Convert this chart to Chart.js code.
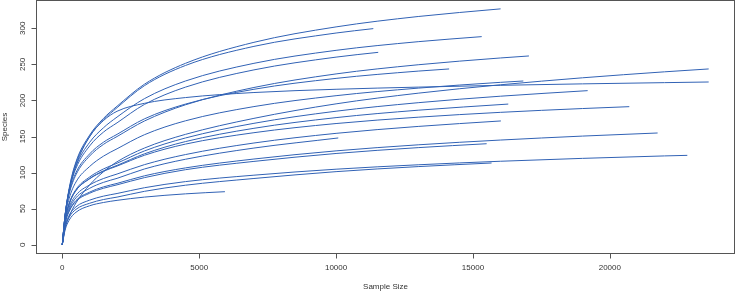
<!DOCTYPE html>
<html><head><meta charset="utf-8">
<script src="https://cdn.jsdelivr.net/npm/chart.js@4/dist/chart.umd.min.js"></script>
<style>html,body{margin:0;padding:0;background:#fff}</style>
</head><body>
<canvas id="c" width="735" height="292"></canvas>
<script>
// sample sizes at which the curves were read (each curve stops at its own end size)
const sampleGrid = [0,100,250,500,1000,1500,2000,3000,4500,7000,10000,13000,16000,19000,22000];
const curveEnds = [16010,11360,15320,11540,17045,14130,23610,23610,16840,19190,16290,20710,16020,10080,21745,15500,22830,15680,5940];
const s01 = [0,40,78,115,152,175,192,222.5,251.5,280.6,302,316.4,327];
const s02 = [0,39,76,113,150,173,190,220.5,248.5,275,293.5,299.6];
const s03 = [0,40.5,76,109,142,162,177,202.5,227,251.5,269.5,281.5,288.5];
const s04 = [0,40,75,106,137,156,169,194.5,218.5,242.4,260.1,266.7];
const s05 = [0,38.5,70,97,123,139,150,171.5,194,218,236.8,249.5,258.9,261.7];
const s06 = [0,40,72,100,126,142,153,174.5,195,215.5,230.6,240.7,243.7];
const s07 = [0,22,39,58,83,101,115,134,153,175.2,195.3,210.1,221.7,231.4,239.7,243.7];
const s08 = [0,40,75,110,150,172,185,196,204,211,215.5,218.5,221,223,224.7,225.6];
const s09 = [0,37.3,63.9,87,108.5,122.7,133,152.5,171.8,191.5,206.6,217.1,225.1,227];
const s10 = [0,33.9,57.1,76.6,93.9,105,113,130,148,168.3,185.1,196.9,205.9,213.6];
const s11 = [0,33.6,56.2,75.2,91.8,102.4,110,126,143,161.4,176.2,186.5,195];
const s12 = [0,33.9,56.5,75.1,91.4,101.7,109,124,139.5,155.3,168,176.8,183.5,188.8,191.4];
const s13 = [0,31.6,52.1,68.7,82.9,91.7,98,111,125,141,154.4,164,171.6];
const s14 = [0,30.2,49.5,65.1,78.2,86.4,92,105,118.5,134,148];
const s15 = [0,28.9,46.9,61.3,72.9,80.1,85,95.5,106.5,118.8,130.1,138.5,145.1,150.6,154.9];
const s16 = [0,28.3,46.1,60.1,71.4,78.2,83,93,104,115.5,126.5,134.6,140];
const s17 = [0,25.3,40.7,52.5,61.8,67.3,71,79,87.5,96.4,104.7,110.8,115.7,119.7,123.1,123.9];
const s18 = [0,23.7,38.1,49,57.5,62.6,66,74,82.5,91.8,101.3,108.3,113.3];
const s19 = [0,20,34,45,54,58.5,61.5,66,70.5,73.5];
const speciesSeries = [s01,s02,s03,s04,s05,s06,s07,s08,s09,s10,s11,s12,s13,s14,s15,s16,s17,s18,s19];

const xTickValues = [0,5000,10000,15000,20000];
const yTickValues = [0,50,100,150,200,250,300];
const xTitle = 'Sample Size';
const yTitle = 'Species';

const lineColor = '#3162b5';
const datasets = speciesSeries.map((sp, i) => ({
  data: sp.map((v, j) => ({x: j < sp.length - 1 ? sampleGrid[j] : curveEnds[i], y: v})),
  borderColor: lineColor, borderWidth: 1, pointRadius: 0, fill: false,
  cubicInterpolationMode: 'monotone'
}));

const FONT = '8px "Liberation Sans", Arial, sans-serif';
const framePlugin = {
  id: 'frame',
  afterDraw(chart) {
    const ctx = chart.ctx, a = chart.chartArea;
    const xs = chart.scales.x, ys = chart.scales.y;
    ctx.save();
    ctx.strokeStyle = '#555'; ctx.lineWidth = 1;
    ctx.strokeRect(Math.round(a.left) - 0.5, Math.round(a.top) - 0.5, Math.round(a.right - a.left) + 1, Math.round(a.bottom - a.top) + 1);
    ctx.fillStyle = '#333'; ctx.font = FONT;
    ctx.textAlign = 'center'; ctx.textBaseline = 'middle';
    ctx.beginPath();
    xTickValues.forEach(v => {
      const px = Math.round(xs.getPixelForValue(v)) + 0.5;
      ctx.moveTo(px, Math.round(a.bottom) + 0.5); ctx.lineTo(px, Math.round(a.bottom) + 5.5);
    });
    yTickValues.forEach(v => {
      const py = Math.round(ys.getPixelForValue(v)) + 0.5;
      ctx.moveTo(Math.round(a.left) - 0.5, py); ctx.lineTo(Math.round(a.left) - 5.5, py);
    });
    ctx.stroke();
    xTickValues.forEach(v => ctx.fillText(String(v), xs.getPixelForValue(v), 268));
    yTickValues.forEach(v => {
      ctx.save(); ctx.translate(22.7, ys.getPixelForValue(v)); ctx.rotate(-Math.PI / 2);
      ctx.fillText(String(v), 0, 0); ctx.restore();
    });
    ctx.fillText(xTitle, (a.left + a.right) / 2, 286.5);
    ctx.save(); ctx.translate(4.5, (a.top + a.bottom) / 2); ctx.rotate(-Math.PI / 2);
    ctx.fillText(yTitle, 0, 0); ctx.restore();
    ctx.restore();
  }
};

new Chart(document.getElementById('c'), {
  type: 'line',
  data: {datasets},
  options: {
    responsive: false, animation: false, devicePixelRatio: 1,
    layout: {padding: {left: 37, right: 1, top: 1, bottom: 39}},
    plugins: {legend: {display: false}, tooltip: {enabled: false}},
    scales: {
      x: {type: 'linear', display: false, min: -924, max: 24535},
      y: {type: 'linear', display: false, min: -11.5, max: 337.9}
    }
  },
  plugins: [framePlugin]
});
</script>
</body></html>
